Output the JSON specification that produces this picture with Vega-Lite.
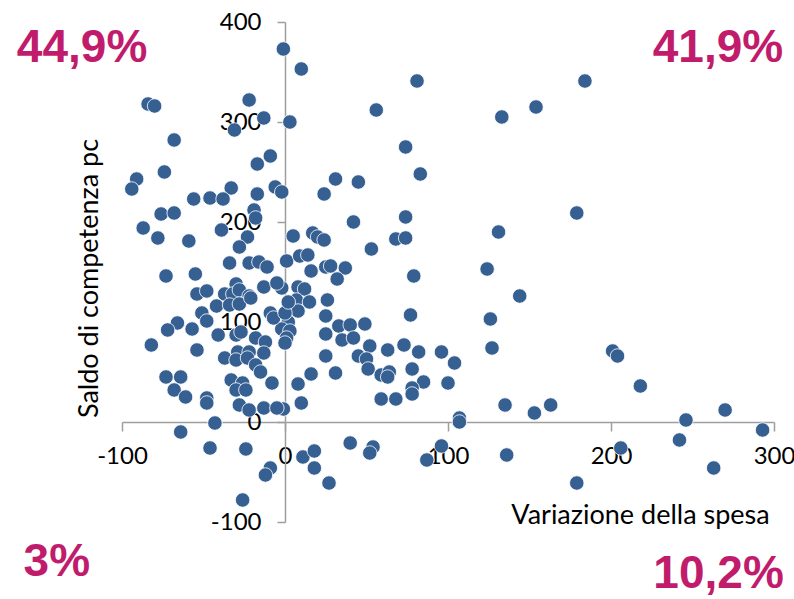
{
  "$schema": "https://vega.github.io/schema/vega-lite/v6.json",
  "width": 652,
  "height": 500,
  "autosize": {"type": "none"},
  "padding": {"left": 122, "top": 22, "right": 20, "bottom": 77},
  "background": "white",
  "config": {"view": {"stroke": null}, "font": "Lato"},
  "layer": [
    {
      "data": {"values": [
        {"spesa": -1, "saldo": 373}, {"spesa": 10, "saldo": 353}, {"spesa": -84, "saldo": 318}, {"spesa": -80, "saldo": 316},
        {"spesa": -22, "saldo": 322}, {"spesa": -13, "saldo": 304}, {"spesa": 3, "saldo": 300}, {"spesa": -31, "saldo": 292},
        {"spesa": -68, "saldo": 282}, {"spesa": -9, "saldo": 266}, {"spesa": -17, "saldo": 258}, {"spesa": -74, "saldo": 250},
        {"spesa": -91, "saldo": 243}, {"spesa": -94, "saldo": 233}, {"spesa": -33, "saldo": 234}, {"spesa": -17, "saldo": 228},
        {"spesa": -6, "saldo": 235}, {"spesa": -2, "saldo": 230}, {"spesa": -56, "saldo": 223}, {"spesa": -46, "saldo": 224},
        {"spesa": -38, "saldo": 223}, {"spesa": -76, "saldo": 208}, {"spesa": -68, "saldo": 209}, {"spesa": -19, "saldo": 212},
        {"spesa": -18, "saldo": 204}, {"spesa": 81, "saldo": 341}, {"spesa": 56, "saldo": 312}, {"spesa": 74, "saldo": 275},
        {"spesa": 31, "saldo": 243}, {"spesa": 45, "saldo": 240}, {"spesa": 83, "saldo": 248}, {"spesa": 24, "saldo": 228},
        {"spesa": 74, "saldo": 205}, {"spesa": 133, "saldo": 305}, {"spesa": 154, "saldo": 315}, {"spesa": 184, "saldo": 341},
        {"spesa": 179, "saldo": 209}, {"spesa": 42, "saldo": 200}, {"spesa": 131, "saldo": 190}, {"spesa": 124, "saldo": 153},
        {"spesa": 144, "saldo": 126}, {"spesa": 126, "saldo": 103}, {"spesa": 127, "saldo": 74}, {"spesa": 201, "saldo": 71},
        {"spesa": 204, "saldo": 66}, {"spesa": 218, "saldo": 36}, {"spesa": 135, "saldo": 17}, {"spesa": 153, "saldo": 9},
        {"spesa": 163, "saldo": 17}, {"spesa": 246, "saldo": 2}, {"spesa": 270, "saldo": 12}, {"spesa": 293, "saldo": -8},
        {"spesa": 242, "saldo": -18}, {"spesa": 206, "saldo": -26}, {"spesa": 136, "saldo": -33}, {"spesa": 263, "saldo": -46},
        {"spesa": 179, "saldo": -61}, {"spesa": 5, "saldo": 186}, {"spesa": 17, "saldo": 189}, {"spesa": 20, "saldo": 185},
        {"spesa": 24, "saldo": 182}, {"spesa": 53, "saldo": 173}, {"spesa": 68, "saldo": 183}, {"spesa": 74, "saldo": 184},
        {"spesa": 1, "saldo": 161}, {"spesa": 9, "saldo": 166}, {"spesa": 14, "saldo": 167}, {"spesa": 25, "saldo": 155},
        {"spesa": 28, "saldo": 156}, {"spesa": 37, "saldo": 154}, {"spesa": 16, "saldo": 151}, {"spesa": 32, "saldo": 143},
        {"spesa": 79, "saldo": 146}, {"spesa": -2, "saldo": 134}, {"spesa": 8, "saldo": 135}, {"spesa": 12, "saldo": 133},
        {"spesa": 26, "saldo": 122}, {"spesa": 7, "saldo": 122}, {"spesa": 15, "saldo": 120}, {"spesa": 4, "saldo": 112},
        {"spesa": 8, "saldo": 111}, {"spesa": 25, "saldo": 106}, {"spesa": 77, "saldo": 107}, {"spesa": 2, "saldo": 100},
        {"spesa": -2, "saldo": 93}, {"spesa": 3, "saldo": 91}, {"spesa": 1, "saldo": 84}, {"spesa": 33, "saldo": 96},
        {"spesa": 40, "saldo": 97}, {"spesa": 49, "saldo": 98}, {"spesa": 25, "saldo": 88}, {"spesa": 35, "saldo": 82},
        {"spesa": 42, "saldo": 84}, {"spesa": 52, "saldo": 76}, {"spesa": 63, "saldo": 72}, {"spesa": 73, "saldo": 77},
        {"spesa": 82, "saldo": 70}, {"spesa": 96, "saldo": 70}, {"spesa": 104, "saldo": 59}, {"spesa": 25, "saldo": 66},
        {"spesa": 45, "saldo": 66}, {"spesa": 50, "saldo": 63}, {"spesa": 51, "saldo": 53}, {"spesa": 59, "saldo": 47},
        {"spesa": 64, "saldo": 50}, {"spesa": 63, "saldo": 45}, {"spesa": 78, "saldo": 53}, {"spesa": 85, "saldo": 40},
        {"spesa": 78, "saldo": 34}, {"spesa": 78, "saldo": 28}, {"spesa": 100, "saldo": 39}, {"spesa": 16, "saldo": 48},
        {"spesa": 31, "saldo": 49}, {"spesa": 8, "saldo": 38}, {"spesa": 10, "saldo": 19}, {"spesa": -1, "saldo": 13},
        {"spesa": 59, "saldo": 23}, {"spesa": 68, "saldo": 23}, {"spesa": 107, "saldo": 4}, {"spesa": 107, "saldo": 0},
        {"spesa": -87, "saldo": 194}, {"spesa": -78, "saldo": 184}, {"spesa": -59, "saldo": 181}, {"spesa": -39, "saldo": 192},
        {"spesa": -23, "saldo": 185}, {"spesa": -28, "saldo": 175}, {"spesa": -34, "saldo": 159}, {"spesa": -22, "saldo": 159},
        {"spesa": -16, "saldo": 160}, {"spesa": -11, "saldo": 155}, {"spesa": -73, "saldo": 146}, {"spesa": -55, "saldo": 148},
        {"spesa": -30, "saldo": 138}, {"spesa": -13, "saldo": 135}, {"spesa": -5, "saldo": 139}, {"spesa": -54, "saldo": 128},
        {"spesa": -48, "saldo": 131}, {"spesa": -37, "saldo": 128}, {"spesa": -32, "saldo": 128}, {"spesa": -28, "saldo": 132},
        {"spesa": -22, "saldo": 126}, {"spesa": -42, "saldo": 116}, {"spesa": -34, "saldo": 117}, {"spesa": -28, "saldo": 118},
        {"spesa": -21, "saldo": 124}, {"spesa": -51, "saldo": 109}, {"spesa": -48, "saldo": 101}, {"spesa": -66, "saldo": 99},
        {"spesa": -72, "saldo": 92}, {"spesa": -57, "saldo": 93}, {"spesa": -41, "saldo": 87}, {"spesa": -30, "saldo": 87},
        {"spesa": -27, "saldo": 90}, {"spesa": -18, "saldo": 84}, {"spesa": -12, "saldo": 80}, {"spesa": -9, "saldo": 109},
        {"spesa": -7, "saldo": 104}, {"spesa": 0, "saldo": 109}, {"spesa": 2, "saldo": 120}, {"spesa": -82, "saldo": 77},
        {"spesa": -54, "saldo": 72}, {"spesa": -29, "saldo": 70}, {"spesa": -22, "saldo": 70}, {"spesa": -13, "saldo": 69},
        {"spesa": -37, "saldo": 64}, {"spesa": -30, "saldo": 62}, {"spesa": -23, "saldo": 64}, {"spesa": -18, "saldo": 57},
        {"spesa": -15, "saldo": 50}, {"spesa": 0, "saldo": 79}, {"spesa": -8, "saldo": 39}, {"spesa": -33, "saldo": 42},
        {"spesa": -26, "saldo": 39}, {"spesa": -30, "saldo": 32}, {"spesa": -24, "saldo": 32}, {"spesa": -73, "saldo": 45},
        {"spesa": -64, "saldo": 45}, {"spesa": -68, "saldo": 32}, {"spesa": -61, "saldo": 25}, {"spesa": -48, "saldo": 24},
        {"spesa": -48, "saldo": 19}, {"spesa": -28, "saldo": 17}, {"spesa": -22, "saldo": 12}, {"spesa": -13, "saldo": 14},
        {"spesa": -5, "saldo": 14}, {"spesa": -43, "saldo": -1}, {"spesa": -64, "saldo": -10}, {"spesa": -46, "saldo": -26},
        {"spesa": -24, "saldo": -27}, {"spesa": -9, "saldo": -46}, {"spesa": -12, "saldo": -53}, {"spesa": -26, "saldo": -78},
        {"spesa": 11, "saldo": -35}, {"spesa": 18, "saldo": -29}, {"spesa": 18, "saldo": -46}, {"spesa": 27, "saldo": -61},
        {"spesa": 40, "saldo": -21}, {"spesa": 54, "saldo": -25}, {"spesa": 52, "saldo": -31}, {"spesa": 96, "saldo": -24},
        {"spesa": 87, "saldo": -38}
      ]},
      "mark": {"type": "circle", "size": 210, "color": "#366092", "opacity": 1, "stroke": "#ffffff", "strokeWidth": 0.8},
      "encoding": {
        "x": {
          "field": "spesa", "type": "quantitative",
          "scale": {"domain": [-100, 300], "nice": false, "zero": false},
          "axis": {
            "values": [-100, 0, 100, 200, 300], "offset": -100, "grid": false,
            "labelExpr": "'' + datum.value",
            "title": "Variazione della spesa", "titleX": 518, "titleY": 93,
            "titleAlign": "center", "titleBaseline": "middle", "titleFontSize": 27,
            "titleFontWeight": "normal", "titleFont": "Lato", "titleColor": "#000000",
            "labelFontSize": 24, "labelFont": "Lato", "labelColor": "#000000", "labelPadding": 13,
            "labelFlush": false, "labelOverlap": false,
            "tickSize": 9, "tickColor": "#9E9E9E", "tickWidth": 1.5,
            "domainColor": "#9E9E9E", "domainWidth": 1.5
          }
        },
        "y": {
          "field": "saldo", "type": "quantitative",
          "scale": {"domain": [-100, 400], "nice": false, "zero": false},
          "axis": {
            "values": [-100, 0, 100, 200, 300, 400], "offset": -163, "grid": false,
            "labelExpr": "'' + datum.value",
            "title": "Saldo di competenza pc", "titleX": -196, "titleY": 256, "titleAngle": -90,
            "titleAlign": "center", "titleBaseline": "middle", "titleFontSize": 27,
            "titleFontWeight": "normal", "titleFont": "Lato", "titleColor": "#000000",
            "labelFontSize": 24, "labelFont": "Lato", "labelColor": "#000000", "labelPadding": 16,
            "labelFlush": false, "labelOverlap": false,
            "tickSize": 8, "tickColor": "#9E9E9E", "tickWidth": 1.5,
            "domainColor": "#9E9E9E", "domainWidth": 1.5
          }
        }
      }
    },
    {
      "data": {"values": [
        {"spesa": -124.5, "saldo": 374, "label": "44,9%"},
        {"spesa": 265.6, "saldo": 374, "label": "41,9%"},
        {"spesa": -140, "saldo": -140, "label": "3%"},
        {"spesa": 266, "saldo": -152, "label": "10,2%"}
      ]},
      "mark": {"type": "text", "font": "Liberation Sans", "fontSize": 46, "fontWeight": "bold", "color": "#C11C6C", "align": "center", "baseline": "middle"},
      "encoding": {
        "x": {"field": "spesa", "type": "quantitative", "scale": {"domain": [-100, 300], "nice": false, "zero": false}},
        "y": {"field": "saldo", "type": "quantitative", "scale": {"domain": [-100, 400], "nice": false, "zero": false}},
        "text": {"field": "label", "type": "nominal"}
      }
    }
  ]
}
